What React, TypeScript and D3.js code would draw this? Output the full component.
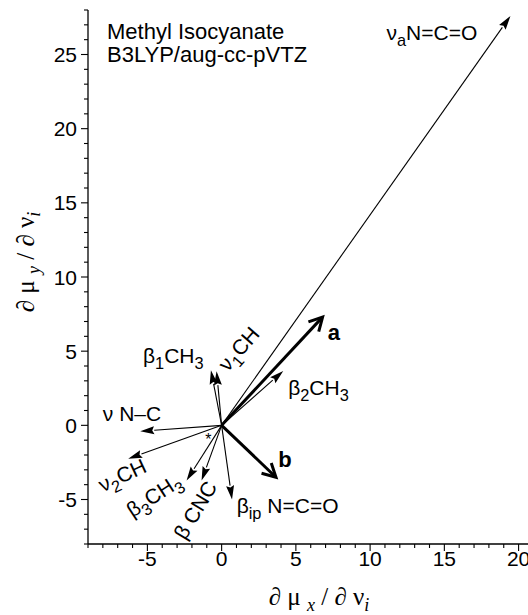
import React from "react";
import * as d3 from "d3";

// ---- data (derivative vectors dmu/dnu) ----
const vectorNames = ["nuaNCO", "a", "b", "beta2CH3", "beta1CH3", "nu1CH", "nuNC", "nu2CH", "beta3CH3", "betaCNC", "betaipNCO"];
const vectorX = [19.45, 6.8, 3.66, 4.15, -0.72, -0.34, -5.48, -6.29, -2.36, -1.35, 0.7];
const vectorY = [27.6, 7.3, -3.5, 3.67, 3.72, 3.65, -0.4, -2.25, -3.72, -3.72, -5.0];
const boldVectors = ["a", "b"];

const xTicks = [-5, 0, 5, 10, 15, 20];
const yTicks = [-5, 0, 5, 10, 15, 20, 25];
const xMinorTicks = d3.range(-9, 21, 1);
const yMinorTicks = d3.range(-8, 29, 1);

const titleLines = ["Methyl Isocyanate", "B3LYP/aug-cc-pVTZ"];

type Piece = { t: string; sub?: boolean };
// label texts
const labelTexts: Piece[][] = [
  [{ t: "ν" }, { t: "a", sub: true }, { t: "N=C=O" }],
  [{ t: "a" }],
  [{ t: "b" }],
  [{ t: "β" }, { t: "2", sub: true }, { t: "CH" }, { t: "3", sub: true }],
  [{ t: "β" }, { t: "1", sub: true }, { t: "CH" }, { t: "3", sub: true }],
  [{ t: "ν" }, { t: "1", sub: true }, { t: "CH" }],
  [{ t: "ν N–C" }],
  [{ t: "ν" }, { t: "2", sub: true }, { t: "CH" }],
  [{ t: "β" }, { t: "3", sub: true }, { t: "CH" }, { t: "3", sub: true }],
  [{ t: "β CNC" }],
  [{ t: "β" }, { t: "ip", sub: true }, { t: " N=C=O" }],
];
// label anchors in data units and rotation (layout)
const labelLayout = [
  { x: 11.1, y: 25.96, rot: 0 },
  { x: 7.15, y: 5.73, rot: 0 },
  { x: 3.81, y: -2.8, rot: 0 },
  { x: 4.48, y: 2.02, rot: 0 },
  { x: -5.3, y: 4.17, rot: 0 },
  { x: 0.42, y: 3.57, rot: -49 },
  { x: -8.0, y: 0.29, rot: 0 },
  { x: -8.0, y: -4.52, rot: -25 },
  { x: -6.0, y: -6.25, rot: -33 },
  { x: -2.45, y: -7.8, rot: -59 },
  { x: 1.01, y: -5.93, rot: 0 },
];
const asterisk = { x: -0.9, y: -1.33 };

const W = 528;
const H = 615;

export default function App() {
  const x = d3.scaleLinear().domain([-9, 20.6]).range([88, 527.5]);
  const y = d3.scaleLinear().domain([-8, 28]).range([544, 10]);
  const ox = x(0);
  const oy = y(0);
  const sans = "'Liberation Sans', Arial, Helvetica, sans-serif";
  const serif = "'Liberation Serif', 'Times New Roman', serif";
  const labelSize = 21;

  const renderPieces = (pieces: Piece[], size: number) =>
    pieces.map((p, i) => {
      const prevSub = i > 0 && pieces[i - 1].sub;
      let dy = 0;
      if (p.sub && !prevSub) dy = size * 0.28;
      else if (!p.sub && prevSub) dy = -size * 0.28;
      return (
        <tspan key={i} dy={dy} fontSize={p.sub ? size * 0.78 : size}>
          {p.t}
        </tspan>
      );
    });

  const arrows = vectorNames.map((name, i) => {
    const tx = x(vectorX[i]);
    const ty = y(vectorY[i]);
    const dx = tx - ox;
    const dy = ty - oy;
    const len = Math.hypot(dx, dy);
    const ux = dx / len;
    const uy = dy / len;
    const bold = boldVectors.includes(name);
    if (bold) {
      const arm = 15;
      const ang = (28 * Math.PI) / 180;
      const rx1 = -(ux * Math.cos(ang) - uy * Math.sin(ang)) * arm;
      const ry1 = -(ux * Math.sin(ang) + uy * Math.cos(ang)) * arm;
      const rx2 = -(ux * Math.cos(-ang) - uy * Math.sin(-ang)) * arm;
      const ry2 = -(ux * Math.sin(-ang) + uy * Math.cos(-ang)) * arm;
      return (
        <g key={name}>
          <line x1={ox} y1={oy} x2={tx - ux * 1.5} y2={ty - uy * 1.5} stroke="#000" strokeWidth={3} />
          <path
            d={`M${tx + rx1},${ty + ry1}L${tx},${ty}L${tx + rx2},${ty + ry2}`}
            fill="none"
            stroke="#000"
            strokeWidth={3}
            strokeLinejoin="miter"
          />
        </g>
      );
    }
    const hl = 14;
    const hw = 4;
    const bx = tx - ux * hl;
    const by = ty - uy * hl;
    const px = -uy;
    const py = ux;
    return (
      <g key={name}>
        <line x1={ox} y1={oy} x2={bx} y2={by} stroke="#000" strokeWidth={1.1} />
        <path
          d={`M${tx},${ty}L${bx + px * hw},${by + py * hw}L${bx + ux * 2},${by + uy * 2}L${bx - px * hw},${by - py * hw}Z`}
          fill="#000"
        />
      </g>
    );
  });

  return (
    <svg width={W} height={H} style={{ position: "absolute", left: 0, top: 0, background: "#fff" }}>
      <rect width={W} height={H} fill="#fff" />
      {/* axes */}
      <line x1={x(-9)} y1={y(-8)} x2={W} y2={y(-8)} stroke="#000" strokeWidth={1.3} />
      <line x1={x(-9)} y1={y(-8)} x2={x(-9)} y2={y(28)} stroke="#000" strokeWidth={1.3} />
      {xMinorTicks.map((t) => (
        <line key={"xm" + t} x1={x(t)} x2={x(t)} y1={y(-8)} y2={y(-8) + (t % 5 === 0 ? 7 : 4)} stroke="#000" strokeWidth={1.1} />
      ))}
      {yMinorTicks.map((t) => (
        <line key={"ym" + t} y1={y(t)} y2={y(t)} x1={x(-9)} x2={x(-9) - (t % 5 === 0 ? 7 : 4)} stroke="#000" strokeWidth={1.1} />
      ))}
      {xTicks.map((t) => (
        <text key={"xt" + t} x={x(t)} y={566} textAnchor="middle" fontFamily={sans} fontSize={21} fill="#000">
          {t}
        </text>
      ))}
      {yTicks.map((t) => (
        <text key={"yt" + t} x={77} y={y(t) + 7.5} textAnchor="end" fontFamily={sans} fontSize={21} fill="#000">
          {t}
        </text>
      ))}
      {/* axis titles */}
      <text x={319} y={605} textAnchor="middle" fontFamily={serif} fontSize={25} fill="#000">
        <tspan>∂ μ </tspan>
        <tspan dy={6} fontSize={18} fontStyle="italic">x</tspan>
        <tspan dy={-6}> / ∂ ν</tspan>
        <tspan dy={6} fontSize={18} fontStyle="italic">i</tspan>
      </text>
      <text
        transform={`translate(34,262) rotate(-90)`}
        textAnchor="middle"
        fontFamily={serif}
        fontSize={25}
        fill="#000"
      >
        <tspan>∂ μ </tspan>
        <tspan dy={6} fontSize={18} fontStyle="italic">y</tspan>
        <tspan dy={-6}> / ∂ ν</tspan>
        <tspan dy={6} fontSize={18} fontStyle="italic">i</tspan>
      </text>
      {/* title */}
      {titleLines.map((l, i) => (
        <text key={l} x={107} y={39 + i * 23} fontFamily={sans} fontSize={22} fill="#000">
          {l}
        </text>
      ))}
      {/* vectors */}
      {arrows}
      {/* labels */}
      {labelTexts.map((pieces, i) => {
        const L = labelLayout[i];
        const name = vectorNames[i];
        const bold = boldVectors.includes(name);
        const size = bold ? 22 : labelSize;
        return (
          <text
            key={"lab" + i}
            transform={`translate(${x(L.x)},${y(L.y)}) rotate(${L.rot})`}
            fontFamily={sans}
            fontSize={size}
            fontWeight={bold ? "bold" : "normal"}
            fill="#000"
          >
            {renderPieces(pieces, size)}
          </text>
        );
      })}
      <text x={x(asterisk.x)} y={y(asterisk.y)} textAnchor="middle" fontFamily={sans} fontSize={16} fill="#000">
        *
      </text>
    </svg>
  );
}
